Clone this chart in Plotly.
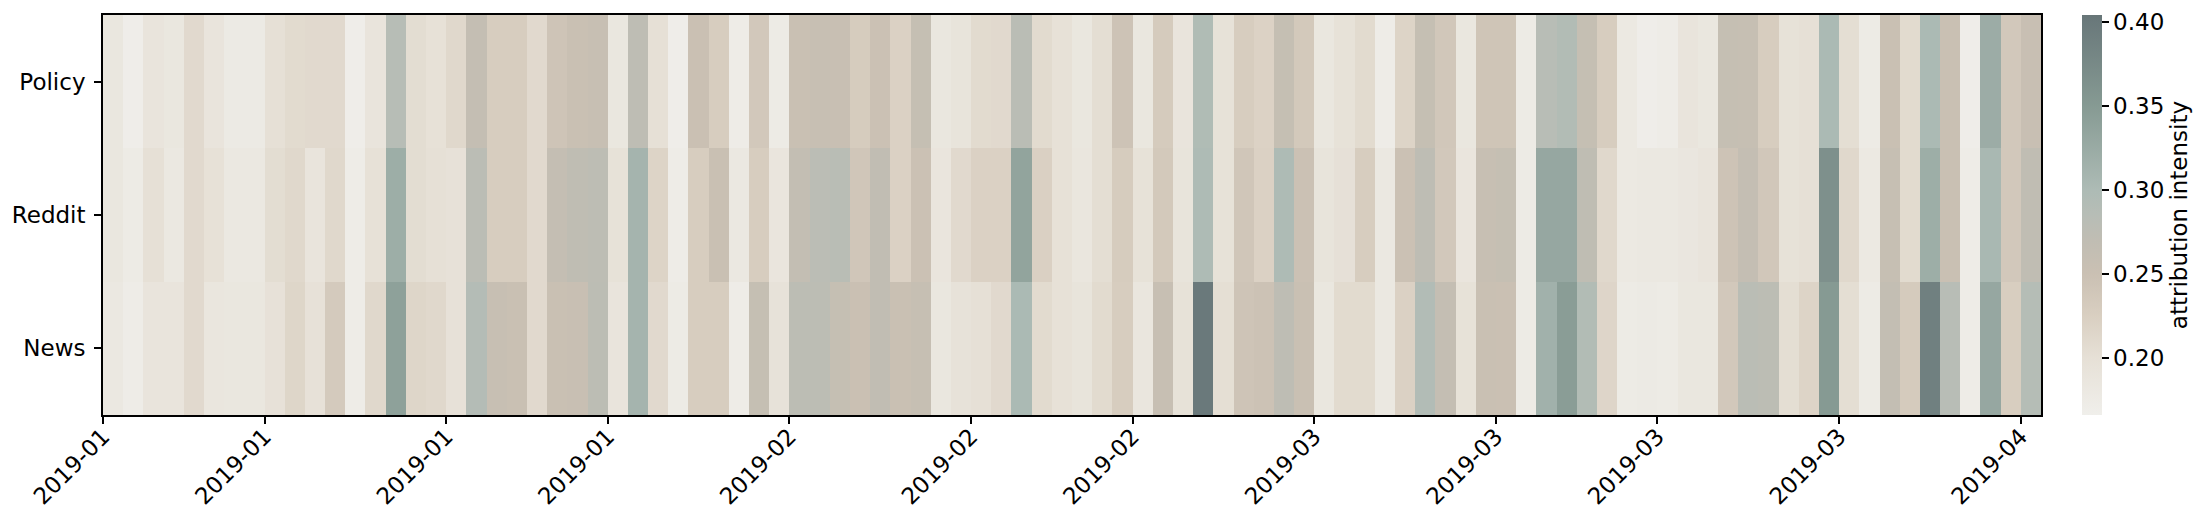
import pandas as pd
import plotly.graph_objects as go

# daily attribution intensity per source, 2019-01-01 .. 2019-04-06
sources = ["Policy", "Reddit", "News"]

policy = [0.185, 0.17, 0.19, 0.185, 0.21, 0.19, 0.178, 0.178, 0.20, 0.208, 0.21, 0.21, 0.17, 0.19, 0.285, 0.205,
          0.198, 0.212, 0.262, 0.228, 0.228, 0.21, 0.243, 0.252, 0.257, 0.185, 0.273, 0.20, 0.17, 0.25, 0.228, 0.172,
          0.236, 0.175, 0.252, 0.257, 0.255, 0.23, 0.248, 0.222, 0.26, 0.185, 0.192, 0.208, 0.21, 0.28, 0.208, 0.198,
          0.185, 0.203, 0.245, 0.185, 0.232, 0.19, 0.295, 0.196, 0.228, 0.22, 0.26, 0.235, 0.185, 0.196, 0.208, 0.172,
          0.218, 0.26, 0.238, 0.185, 0.242, 0.242, 0.175, 0.283, 0.293, 0.26, 0.228, 0.18, 0.17, 0.172, 0.19, 0.185,
          0.26, 0.259, 0.228, 0.196, 0.2, 0.302, 0.203, 0.175, 0.252, 0.208, 0.302, 0.253, 0.17, 0.322, 0.236, 0.255]

reddit = [0.185, 0.175, 0.20, 0.183, 0.21, 0.198, 0.182, 0.182, 0.205, 0.212, 0.19, 0.212, 0.172, 0.198, 0.32, 0.205,
          0.20, 0.197, 0.278, 0.228, 0.228, 0.21, 0.262, 0.272, 0.275, 0.196, 0.31, 0.218, 0.172, 0.228, 0.252, 0.182,
          0.228, 0.188, 0.265, 0.278, 0.282, 0.24, 0.268, 0.222, 0.248, 0.188, 0.21, 0.222, 0.222, 0.335, 0.223, 0.198,
          0.187, 0.203, 0.23, 0.196, 0.235, 0.192, 0.298, 0.196, 0.24, 0.222, 0.298, 0.248, 0.192, 0.199, 0.228, 0.182,
          0.248, 0.274, 0.236, 0.188, 0.256, 0.26, 0.175, 0.33, 0.33, 0.272, 0.212, 0.18, 0.183, 0.183, 0.186, 0.19,
          0.245, 0.262, 0.238, 0.196, 0.2, 0.365, 0.212, 0.18, 0.259, 0.208, 0.32, 0.253, 0.172, 0.305, 0.236, 0.27]

news = [0.183, 0.173, 0.19, 0.19, 0.21, 0.187, 0.185, 0.185, 0.197, 0.215, 0.197, 0.233, 0.172, 0.212, 0.34, 0.215,
        0.212, 0.197, 0.29, 0.256, 0.252, 0.21, 0.252, 0.255, 0.276, 0.19, 0.31, 0.21, 0.175, 0.228, 0.228, 0.172,
        0.26, 0.195, 0.276, 0.276, 0.26, 0.25, 0.268, 0.252, 0.259, 0.185, 0.195, 0.20, 0.21, 0.302, 0.208, 0.198,
        0.192, 0.208, 0.228, 0.187, 0.257, 0.196, 0.40, 0.202, 0.243, 0.246, 0.274, 0.252, 0.185, 0.208, 0.208, 0.182,
        0.222, 0.292, 0.262, 0.196, 0.252, 0.25, 0.175, 0.315, 0.345, 0.293, 0.216, 0.175, 0.178, 0.175, 0.185, 0.185,
        0.236, 0.28, 0.276, 0.203, 0.218, 0.35, 0.203, 0.175, 0.264, 0.232, 0.39, 0.283, 0.172, 0.33, 0.226, 0.288]

# which days get a tick label
tick_idx = [0, 8, 17, 25, 34, 43, 51, 60, 69, 77, 86, 95]
colorbar_ticks = [0.20, 0.25, 0.30, 0.35, 0.40]

zmin, zmax = 0.166, 0.404

dates = pd.date_range("2019-01-01", periods=len(policy), freq="D")
centers = dates + pd.Timedelta(hours=12)  # cells span one whole day
tick_dates = [dates[i] for i in tick_idx]
tick_text = [d.strftime("%Y-%m") for d in tick_dates]

# cream -> tan -> sage -> slate
stops = [(0.166, "#f0efeb"), (0.20, "#e6e0d6"), (0.225, "#d9cfc1"), (0.25, "#cac0b3"),
         (0.27, "#c0bdb3"), (0.285, "#b7bdb6"), (0.30, "#adbbb5"), (0.35, "#869a93"),
         (0.40, "#6a797b"), (0.404, "#677577")]
colorscale = [[(v - zmin) / (zmax - zmin), c] for v, c in stops]

fs = 23

fig = go.Figure(go.Heatmap(
    z=[policy, reddit, news],
    x=centers,
    y=sources,
    zmin=zmin, zmax=zmax,
    colorscale=colorscale,
    xgap=0, ygap=0,
    colorbar=dict(
        title=dict(text="attribution intensity", side="right",
                   font=dict(size=fs, color="#000000")),
        thickness=20, len=1, lenmode="fraction", y=0.5, yanchor="middle", ypad=0,
        x=1.0212, xanchor="left", xpad=0, outlinewidth=0,
        tickvals=colorbar_ticks, tickformat=".2f",
        ticks="outside", ticklen=7, tickwidth=1.6, tickcolor="#000000",
        tickfont=dict(size=fs, color="#000000"),
    ),
))

axis_font = dict(family="DejaVu Sans", size=fs, color="#000000")

fig.update_xaxes(
    type="date",
    range=[dates[0], dates[-1] + pd.Timedelta(days=1)],
    tickvals=tick_dates, ticktext=tick_text, tickangle=-45,
    ticks="outside", ticklen=7, tickwidth=1.6, tickcolor="#000000",
    tickfont=axis_font, automargin=False, ticklabelstandoff=-10,
    showline=True, linewidth=1.8, linecolor="#000000", mirror=True,
    showgrid=False, zeroline=False,
)
fig.update_yaxes(
    autorange="reversed",
    ticks="outside", ticklen=7, tickwidth=1.6, tickcolor="#000000",
    tickfont=axis_font, automargin=False, ticklabelstandoff=4,
    showline=True, linewidth=1.8, linecolor="#000000", mirror=True,
    showgrid=False, zeroline=False,
)

# the page body adds ~8px, so margins are shifted to keep the plot box in place
fig.update_layout(
    width=2207, height=528,
    margin=dict(l=95, r=174, t=7, b=121, autoexpand=False),
    paper_bgcolor="white", plot_bgcolor="white",
    font=dict(family="DejaVu Sans", color="#000000"),
)

fig.write_html("out.html")
